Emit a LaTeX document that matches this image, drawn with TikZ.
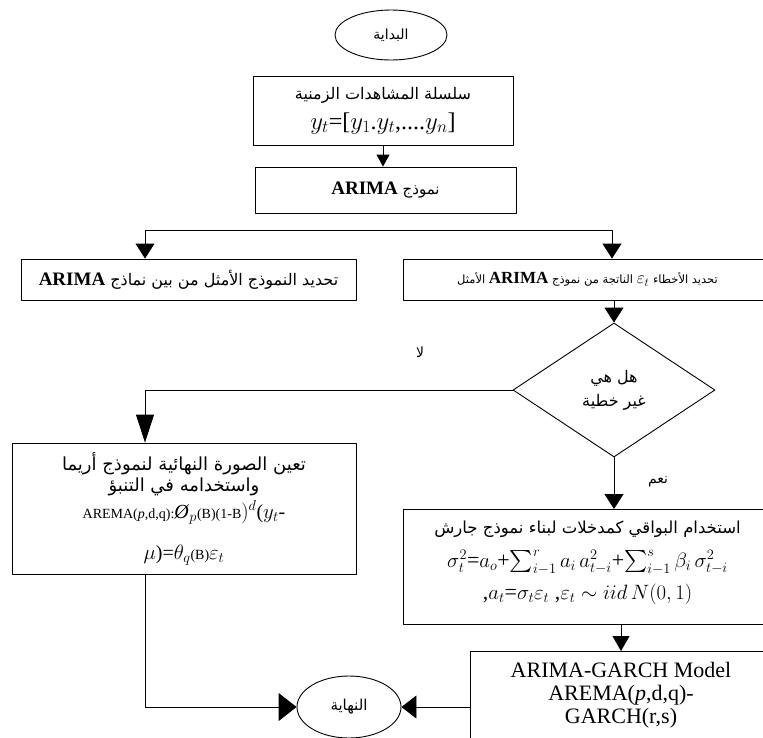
\documentclass[tikz,border=0pt]{standalone}
\usepackage{amsmath}
\usepackage{amssymb}
\usepackage{fontspec}
\setmainfont{Liberation Serif}
\newfontfamily\arabicfont[Script=Arabic]{DejaVu Sans}
\usetikzlibrary{arrows,arrows.meta,shapes.geometric}
\TeXXeTstate=1
\newcommand{\artxt}[1]{{\arabicfont\beginR #1\endR}}
\newcommand{\lattxt}[1]{\beginL{\normalfont #1}\endL}

\begin{document}
\begin{tikzpicture}[line cap=round,line join=round,>={Triangle[length=15pt,width=19pt]},x=1pt,y=-1pt,
  flowbox/.style={draw,rectangle,line width=0.9pt,align=center,inner sep=2pt},
  oval/.style={draw,ellipse,line width=0.9pt,inner sep=0pt},
  link/.style={->,line width=0.9pt}]
\useasboundingbox (0,0) rectangle (763,737);
\clip (0,0) rectangle (763,737);
\node[oval,minimum width=112pt,minimum height=50pt,font=\fontsize{14}{16}\selectfont] (start) at (391,35) {\artxt{البداية}};
\node[flowbox,minimum width=260pt,minimum height=69pt,font=\fontsize{16}{30}\selectfont] (series) at (383,110.5)
  {\artxt{سلسلة المشاهدات الزمنية}\\ \fontsize{24}{26}\selectfont $y_t$=[$y_1$.$y_t$,....$y_n$]};
\node[flowbox,minimum width=261pt,minimum height=46pt,font=\fontsize{15}{17}\selectfont] (arima) at (385.5,190)
  {\artxt{نموذج \lattxt{\fontsize{19}{21}\selectfont\bfseries ARIMA}}};
\node[flowbox,minimum width=335pt,minimum height=41pt,font=\fontsize{16}{18}\selectfont] (best) at (188.5,279.5)
  {\artxt{تحديد النموذج الأمثل من بين نماذج \lattxt{\fontsize{19}{21}\selectfont\bfseries ARIMA}}};
\node[flowbox,minimum width=369pt,minimum height=41pt,font=\fontsize{11.5}{14}\selectfont] (errors) at (587.5,279.5)
  {\artxt{تحديد الأخطاء \lattxt{\fontsize{17}{19}\selectfont$\varepsilon_t$} الناتجة من نموذج \lattxt{\fontsize{17}{19}\selectfont\bfseries ARIMA} الأمثل}};
\node[draw,diamond,line width=0.9pt,minimum width=202pt,minimum height=134pt,inner sep=0pt,align=center,
  font=\fontsize{16}{24}\selectfont] (dec) at (614,390) {\artxt{هل هي}\\ \artxt{غير خطية}};
\node[font=\fontsize{14}{16}\selectfont] (no) at (420,352) {\artxt{لا}};
\node[font=\fontsize{14}{16}\selectfont] (yes) at (658,482) {\artxt{نعم}};
\node[flowbox,minimum width=344pt,minimum height=131pt,font=\fontsize{18}{21}\selectfont] (final) at (184,508.5)
  {\artxt{تعين الصورة النهائية لنموذج أريما}\\ \artxt{واستخدامه في التنبؤ}\\[4pt]
   {\fontsize{14}{16}\selectfont AREMA(\textit{p},d,q):}{\fontsize{20}{24}\selectfont\textit{Ø}$_p$}{\fontsize{14}{16}\selectfont(B)(1-B}{\fontsize{20}{24}\selectfont$)^d$($y_t$-}\\[20pt]
   {\fontsize{20}{24}\selectfont$\mu$){=}$\theta_q$}{\fontsize{14}{16}\selectfont(B)}{\fontsize{20}{24}\selectfont$\varepsilon_t$}};
\node[flowbox,minimum width=369pt,minimum height=115pt,anchor=north,font=\fontsize{16.5}{22}\selectfont] (resid) at (587.5,509)
  {\artxt{استخدام البواقي كمدخلات لبناء نموذج جارش}\\[12pt]
   \fontsize{22}{25}\selectfont $\sigma_t^2$=$a_o$+$\sum_{i-1}^{r}a_i\,a_{t-i}^2$+$\sum_{i-1}^{s}\beta_i\,\sigma_{t-i}^2$\\[8pt]
   \fontsize{22}{25}\selectfont ,$a_t$=$\sigma_t\varepsilon_t$ ,$\varepsilon_t\sim iid\,N(0,1)$\\[-8pt]};
\node[flowbox,minimum width=302pt,minimum height=88pt,anchor=north,font=\fontsize{22}{23}\selectfont] (garch) at (621,651)
  {ARIMA-GARCH Model\\ AREMA(\textit{p},d,q)-\\ GARCH(r,s)};
\node[oval,minimum width=104pt,minimum height=62pt,font=\fontsize{15}{17}\selectfont] (end) at (349,707) {\artxt{النهاية}};
\coordinate (brL) at (145,230);
\coordinate (brR) at (612,230);
\draw[link,>={Triangle[length=12pt,width=13pt]}] (series.south) -- (series.south |- arima.north);
\draw[link,<->] (best.north -| brL) -- (brL) -- (brR) -- (errors.north -| brR);
\draw[link] (errors.south -| dec.north) -- (dec.north);
\draw[link,>={Triangle[length=28pt,width=18pt]}] (dec.west) -| (final.north -| brL);
\draw[link] (dec.south) -- (dec.south |- resid.north);
\draw[link,>={Triangle[length=15pt,width=17pt]}] (resid.south -| garch.north) -- (garch.north);
\draw[link,>={Triangle[length=18pt,width=28pt]}] (final.south -| brL) |- (end.west);
\draw[link,>={Triangle[length=15pt,width=23pt]}] (garch.west |- end.east) -- (end.east);
\end{tikzpicture}
\end{document}
